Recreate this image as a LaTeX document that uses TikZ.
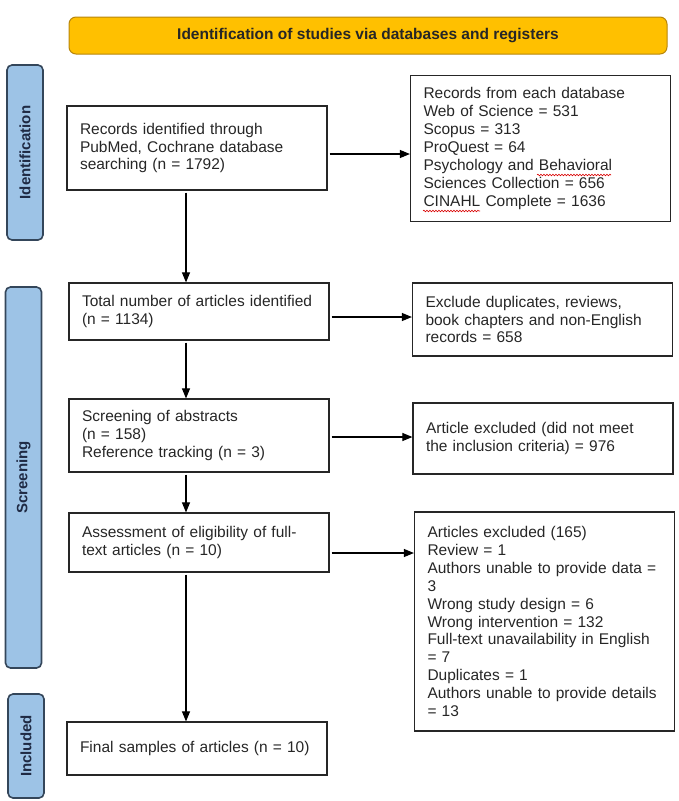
\documentclass[tikz,border=0pt]{standalone}
\usepackage{fontspec}
\setmainfont{Liberation Sans}
\usetikzlibrary{arrows.meta,decorations.pathmorphing}
\definecolor{hdrfill}{HTML}{FFC000}
\definecolor{hdrline}{HTML}{B8860B}
\definecolor{barfill}{HTML}{9DC3E6}
\definecolor{barline}{HTML}{34465A}
\definecolor{lbltext}{HTML}{1F2A44}
\definecolor{boxtext}{HTML}{262626}
\begin{document}
\begin{tikzpicture}[x=1pt,y=-1pt,
  box/.style={draw=boxtext, line width=1.2pt, rectangle, inner xsep=13pt, inner ysep=0pt,
    text width=234pt, align=left, font=\fontsize{15.5}{17.9}\selectfont, text=boxtext},
  sidebar/.style={draw=barline, fill=barfill, line width=1.6pt, rounded corners=5pt,
    minimum width=36pt, inner sep=0pt},
  sidelbl/.style={rotate=90, font=\fontsize{15}{18}\selectfont\bfseries, text=lbltext},
  arr/.style={-{Triangle[length=10pt,width=8pt]}, line width=1.1pt, draw=black, shorten <=2pt},
  squig/.style={draw=red!85!black, line width=0.6pt, decorate,
    decoration={snake, amplitude=0.8pt, segment length=3pt}}
]
\useasboundingbox (0,0) rectangle (679,801);

% header
\node[draw=hdrline, fill=hdrfill, rounded corners=7pt, line width=1pt,
  minimum width=598pt, minimum height=37pt,
  font=\fontsize{15.5}{18}\selectfont\bfseries, text=black!85] (hdr) at (368,35.5)
  {Identification of studies via databases and registers};

% side bars
\node[sidebar, minimum height=175pt] (idbar) at (25,152.5) {};
\node[sidelbl] (idlbl) at (idbar.center) {Identification};
\node[sidebar, minimum height=381pt] (scbar) at (23.5,477.5) {};
\node[sidelbl] (sclbl) at (scbar.center) {Screening};
\node[sidebar, minimum height=104pt] (inbar) at (26,746) {};
\node[sidelbl] (inlbl) at (inbar.center) {Included};

% boxes
\node[box, minimum height=84pt] (rec) at (197,148)
  {Records identified through\\PubMed, Cochrane database\\searching (n = 1792)};
\node[box, minimum height=146pt] (db) at (540.5,148.5)
  {Records from each database\\Web of Science = 531\\Scopus = 313\\ProQuest = 64\\Psychology and Behavioral\\Sciences Collection = 656\\CINAHL Complete = 1636};
\node[box, minimum height=57pt] (tot) at (199,311.5)
  {Total number of articles identified\\(n = 1134)};
\node[box, minimum height=73pt] (ex1) at (542.5,319.5)
  {Exclude duplicates, reviews,\\book chapters and non-English\\records = 658};
\node[box, minimum height=73pt] (scr) at (199,435.5)
  {Screening of abstracts\\(n = 158)\\Reference tracking (n = 3)};
\node[box, minimum height=71pt] (ex2) at (543,438.5)
  {Article excluded (did not meet\\the inclusion criteria) = 976};
\node[box, minimum height=59pt] (ass) at (199,542.5)
  {Assessment of eligibility of full-\\text articles (n = 10)};
\node[box, minimum height=219pt] (ex3) at (544.5,621.5)
  {Articles excluded (165)\\Review = 1\\Authors unable to provide data =\\3\\Wrong study design = 6\\Wrong intervention = 132\\Full-text unavailability in English\\= 7\\Duplicates = 1\\Authors unable to provide details\\= 13};
\node[box, minimum height=53pt] (fin) at (197,748.5)
  {Final samples of articles (n = 10)};

% spell-check underlines
\draw[squig] (537,175) -- (611,175);
\draw[squig] (423,211) -- (480,211);

% connectors
\coordinate (vx) at (186,0);
\coordinate (h1) at (0,154);
\coordinate (h2) at (0,317);
\coordinate (h3) at (0,437);
\coordinate (h4) at (0,553);
\draw[arr] (rec.east |- h1) -- (db.west |- h1);
\draw[arr] (tot.east |- h2) -- (ex1.west |- h2);
\draw[arr] (scr.east |- h3) -- (ex2.west |- h3);
\draw[arr] (ass.east |- h4) -- (ex3.west |- h4);
\draw[arr] (rec.south -| vx) -- (tot.north -| vx);
\draw[arr] (tot.south -| vx) -- (scr.north -| vx);
\draw[arr] (scr.south -| vx) -- (ass.north -| vx);
\draw[arr] (ass.south -| vx) -- (fin.north -| vx);
\end{tikzpicture}
\end{document}
